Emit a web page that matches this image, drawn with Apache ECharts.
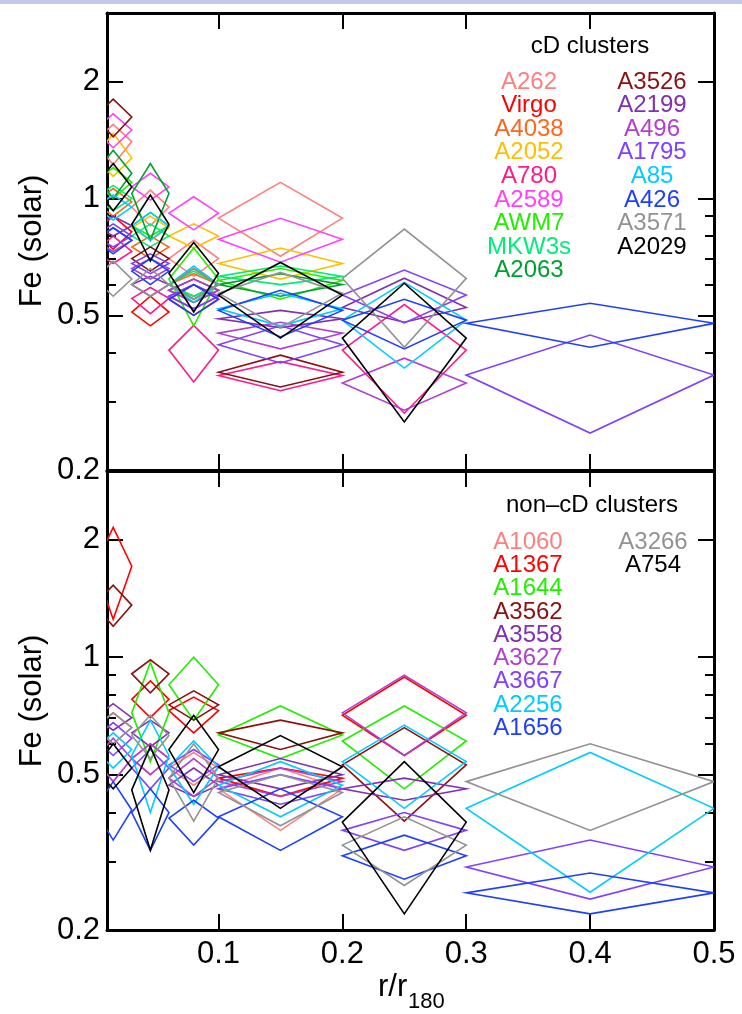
<!DOCTYPE html>
<html>
<head>
<meta charset="utf-8">
<script src="https://cdn.jsdelivr.net/npm/echarts@6/dist/echarts.min.js"></script>
<style>
  html, body { margin: 0; padding: 0; background: #ffffff; }
  #chart { width: 742px; height: 1014px; }
</style>
</head>
<body>
<div id="chart"></div>
<script>
// Radial bins in r/r180: centre, inner edge, outer edge
const rMid = [0.015, 0.045, 0.08, 0.15, 0.25, 0.4];
const rIn  = [0.0,   0.03,  0.06, 0.10, 0.20, 0.3];
const rOut = [0.03,  0.06,  0.10, 0.20, 0.30, 0.5];

// Fe abundance (solar) per bin as [value, lower, upper]; null = no measurement
// cD clusters
const A262  = [[1.40, 1.22, 1.55], [0.95, 0.85, 1.05], [0.70, 0.63, 0.78], [0.89, 0.71, 1.10], null, null];
const Virgo = [[0.82, 0.74, 0.90], [0.51, 0.47, 0.56], [0.55, 0.50, 0.60], null, null, null];
const A4038 = [[0.98, 0.90, 1.06], [0.75, 0.70, 0.80], [0.60, 0.56, 0.64], null, null, null];
const A2052 = [[1.27, 1.14, 1.47], [0.84, 0.78, 0.90], [0.80, 0.745, 0.86], [0.68, 0.62, 0.745], null, null];
const A780  = [[0.73, 0.68, 0.80], [0.553, 0.505, 0.59], [0.407, 0.337, 0.471], [0.35, 0.32, 0.38], [0.407, 0.280, 0.533], null];
const A2589 = [[1.50, 1.35, 1.65], [1.07, 0.99, 1.16], [0.916, 0.83, 1.01], [0.785, 0.685, 0.889], null, null];
const AWM7  = [[1.10, 1.00, 1.20], [0.85, 0.80, 0.92], [0.62, 0.47, 0.745], [0.615, 0.55, 0.66], null, null];
const MKW3s = [[1.00, 0.93, 1.08], [0.80, 0.75, 0.86], [0.60, 0.56, 0.65], [0.63, 0.60, 0.67], null, null];
const A2063 = [[1.16, 1.00, 1.33], [1.03, 0.78, 1.23], [0.60, 0.55, 0.66], [0.60, 0.56, 0.64], null, null];
const A3526 = [[1.62, 1.44, 1.80], [0.70, 0.65, 0.75], [0.58, 0.54, 0.62], [0.357, 0.327, 0.395], null, null];
const A2199 = [[0.85, 0.80, 0.90], [0.60, 0.56, 0.63], [0.56, 0.52, 0.60], [0.49, 0.465, 0.515], [0.524, 0.48, 0.623], null];
const A496  = [[0.78, 0.73, 0.84], [0.66, 0.62, 0.70], [0.58, 0.54, 0.62], [0.45, 0.41, 0.48], [0.335, 0.285, 0.388], null];
const A1795 = [[0.80, 0.75, 0.86], [0.68, 0.64, 0.72], [0.56, 0.52, 0.60], [0.42, 0.377, 0.47], [0.564, 0.478, 0.654], [0.351, 0.249, 0.445]];
const A85   = [[0.95, 0.88, 1.02], [0.85, 0.78, 0.92], [0.60, 0.54, 0.67], [0.52, 0.47, 0.57], [0.486, 0.366, 0.608], null];
const A426  = [[0.78, 0.72, 0.84], [0.65, 0.60, 0.70], [0.55, 0.50, 0.60], [0.515, 0.44, 0.58], [0.486, 0.41, 0.55], [0.477, 0.414, 0.537]];
const A3571 = [[0.62, 0.56, 0.69], [0.60, 0.56, 0.66], [0.60, 0.55, 0.66], [0.57, 0.465, 0.645], [0.623, 0.414, 0.834], null];
const A2029 = [[1.07, 0.93, 1.23], [0.858, 0.69, 1.02], [0.642, 0.51, 0.77], [0.564, 0.437, 0.684], [0.437, 0.266, 0.605], null];

// non-cD clusters
const A1060 = [[0.66, 0.60, 0.72], [0.55, 0.50, 0.60], [0.52, 0.47, 0.57], [0.46, 0.36, 0.52], null, null];
const A1367 = [[1.71, 1.25, 2.15], [0.78, 0.70, 0.87], [0.73, 0.64, 0.79], [0.49, 0.44, 0.52], [0.71, 0.56, 0.89], null];
const A1644 = [null, [0.72, 0.54, 0.97], [0.85, 0.69, 1.00], [0.632, 0.55, 0.75], [0.61, 0.46, 0.75], null];
const A3562 = [[1.36, 1.20, 1.53], [0.907, 0.81, 0.985], [0.755, 0.69, 0.82], [0.64, 0.58, 0.69], [0.53, 0.38, 0.66], null];
const A3558 = [[0.70, 0.65, 0.76], [0.64, 0.59, 0.69], [0.47, 0.44, 0.52], [0.50, 0.46, 0.55], [0.46, 0.43, 0.49], null];
const A3627 = [[0.55, 0.48, 0.62], [0.55, 0.50, 0.60], [0.49, 0.44, 0.55], [0.48, 0.44, 0.52], [0.72, 0.56, 0.90], null];
const A3667 = [[0.62, 0.56, 0.68], [0.52, 0.46, 0.58], [0.53, 0.48, 0.58], [0.46, 0.42, 0.50], [0.36, 0.32, 0.40], [0.29, 0.24, 0.34]];
const A2256 = [[0.58, 0.52, 0.64], [0.56, 0.40, 0.69], [0.524, 0.42, 0.61], [0.47, 0.39, 0.54], [0.54, 0.41, 0.67], [0.41, 0.25, 0.57]];
const A1656 = [[0.406, 0.34, 0.48], [0.40, 0.32, 0.46], [0.387, 0.33, 0.43], [0.39, 0.32, 0.46], [0.31, 0.27, 0.35], [0.249, 0.22, 0.28]];
const A3266 = [[0.66, 0.60, 0.72], [0.63, 0.55, 0.71], [0.49, 0.38, 0.60], [0.45, 0.37, 0.50], [0.33, 0.26, 0.39], [0.48, 0.36, 0.60]];
const A754  = [[0.52, 0.46, 0.60], [0.457, 0.32, 0.59], [0.58, 0.45, 0.71], [0.524, 0.41, 0.63], [0.378, 0.22, 0.54], null];

const cdNames    = ['A262', 'Virgo', 'A4038', 'A2052', 'A780', 'A2589', 'AWM7', 'MKW3s', 'A2063',
                    'A3526', 'A2199', 'A496', 'A1795', 'A85', 'A426', 'A3571', 'A2029'];
const cdProfiles = [A262, Virgo, A4038, A2052, A780, A2589, AWM7, MKW3s, A2063,
                    A3526, A2199, A496, A1795, A85, A426, A3571, A2029];
const cdColors   = ['#ff7f7f', '#ff0000', '#ff6619', '#ffbf00', '#ff1a8c', '#ff40ff', '#22ee00', '#00ee77', '#00a030',
                    '#8b1010', '#8030b0', '#b040d0', '#8040ff', '#00ccff', '#1f3fff', '#929292', '#000000'];

const ncdNames    = ['A1060', 'A1367', 'A1644', 'A3562', 'A3558', 'A3627', 'A3667', 'A2256', 'A1656', 'A3266', 'A754'];
const ncdProfiles = [A1060, A1367, A1644, A3562, A3558, A3627, A3667, A2256, A1656, A3266, A754];
const ncdColors   = ['#ff7f7f', '#ff0000', '#22ee00', '#8b1010', '#8030b0', '#b040d0', '#8040ff', '#00ccff', '#1f3fff', '#929292', '#000000'];

// Axis tick positions
const xTicks  = [0.1, 0.2, 0.3, 0.4, 0.5];
const yMajor  = [0.2, 0.5, 1, 2];
const yMinor  = [0.3, 0.4, 0.6, 0.7, 0.8, 0.9];

const FONT = '"Liberation Sans", Arial, Helvetica, sans-serif';

const chart = echarts.init(document.getElementById('chart'), null, { renderer: 'canvas' });

// One diamond per bin: left/right corners span the bin, top/bottom span the Fe range
function diamondSeries(name, profile, color, panel) {
  const data = [];
  profile.forEach((p, i) => {
    if (p) data.push([rMid[i], rIn[i], rOut[i], p[0], p[1], p[2]]);
  });
  return {
    type: 'custom',
    name: name,
    xAxisIndex: panel * 2,
    yAxisIndex: panel * 4,
    clip: true,
    silent: true,
    animation: false,
    encode: { x: [0, 1, 2], y: [3, 4, 5] },
    data: data,
    renderItem: function (params, api) {
      const pL = api.coord([api.value(1), api.value(3)]);
      const pT = api.coord([api.value(0), api.value(5)]);
      const pR = api.coord([api.value(2), api.value(3)]);
      const pB = api.coord([api.value(0), api.value(4)]);
      return {
        type: 'polygon',
        shape: { points: [pL, pT, pR, pB] },
        style: { fill: 'none', stroke: color, lineWidth: 1.6 }
      };
    }
  };
}

const axisLine = { show: true, lineStyle: { color: '#000', width: 3 } };
const labelFmt = v => String(parseFloat(Number(v).toPrecision(6)));

function xAxes(panel) {
  const base = {
    type: 'value', gridIndex: panel, min: 0.01, max: 0.5,
    splitLine: { show: false },
    axisLine: axisLine,
    axisTick: { show: true, inside: true, length: 16, customValues: xTicks, lineStyle: { color: '#000', width: 2 } }
  };
  return [
    Object.assign({}, base, {
      position: 'bottom',
      axisLabel: {
        show: panel === 1, customValues: xTicks, inside: false, margin: 9,
        fontSize: 31, fontFamily: FONT, color: '#000', formatter: labelFmt
      }
    }),
    Object.assign({}, base, { position: 'top', axisLabel: { show: false } })
  ];
}

function yAxes(panel) {
  const base = { type: 'log', logBase: 10, gridIndex: panel, min: 0.2, max: 3, splitLine: { show: false } };
  const major = { show: true, inside: true, length: 16, customValues: yMajor, lineStyle: { color: '#000', width: 2 } };
  const minor = { show: true, inside: true, length: 9, customValues: yMinor, lineStyle: { color: '#000', width: 2 } };
  return [
    Object.assign({}, base, {
      position: 'left', axisLine: axisLine, axisTick: major,
      axisLabel: { show: true, customValues: yMajor, margin: 7, fontSize: 31, fontFamily: FONT, color: '#000', formatter: labelFmt }
    }),
    Object.assign({}, base, { position: 'left', axisLine: { show: false }, axisTick: minor, axisLabel: { show: false } }),
    Object.assign({}, base, { position: 'right', axisLine: axisLine, axisTick: major, axisLabel: { show: false } }),
    Object.assign({}, base, { position: 'right', axisLine: { show: false }, axisTick: minor, axisLabel: { show: false } })
  ];
}

const series = [];
cdNames.forEach((n, i) => series.push(diamondSeries(n, cdProfiles[i], cdColors[i], 0)));
ncdNames.forEach((n, i) => series.push(diamondSeries(n, ncdProfiles[i], ncdColors[i], 1)));

// Legend lists drawn as coloured names in two columns
const graphics = [];
function text(str, x, y, color, size, extra) {
  graphics.push(Object.assign({
    type: 'text', x: x, y: y, silent: true, z: 10,
    style: {
      text: str, fill: color, font: size + 'px ' + FONT,
      textAlign: 'center', textVerticalAlign: 'middle', align: 'center', verticalAlign: 'middle'
    }
  }, extra || {}));
}

text('cD clusters', 590, 46, '#000', 24);
cdNames.forEach((n, i) => {
  const col = i < 9 ? 0 : 1;
  const row = col === 0 ? i : i - 9;
  text(n, col === 0 ? 529 : 652, 82 + row * 23.6, cdColors[i], 24);
});

text('non\u2013cD clusters', 592, 505, '#000', 24);
ncdNames.forEach((n, i) => {
  const col = i < 9 ? 0 : 1;
  const row = col === 0 ? i : i - 9;
  text(n, col === 0 ? 528 : 653, 542 + row * 23.3, ncdColors[i], 24);
});

// Axis titles
text('Fe (solar)', 32, 241, '#000', 31, { rotation: Math.PI / 2 });
text('Fe (solar)', 32, 701, '#000', 31, { rotation: Math.PI / 2 });
graphics.push({
  type: 'text', x: 378, y: 987, silent: true,
  style: { text: 'r/r', fill: '#000', font: '31px ' + FONT, textAlign: 'left', align: 'left', textVerticalAlign: 'middle', verticalAlign: 'middle' }
});
graphics.push({
  type: 'text', x: 408, y: 1002, silent: true,
  style: { text: '180', fill: '#000', font: '22px ' + FONT, textAlign: 'left', align: 'left', textVerticalAlign: 'middle', verticalAlign: 'middle' }
});
// thin tinted band along the top edge
graphics.push({ type: 'rect', shape: { x: 0, y: 0, width: 742, height: 4 }, style: { fill: '#c3c9e9' }, silent: true });

chart.setOption({
  animation: false,
  backgroundColor: '#ffffff',
  grid: [
    { left: 107, right: 28, top: 13, height: 457 },
    { left: 107, right: 28, top: 471, height: 459 }
  ],
  xAxis: xAxes(0).concat(xAxes(1)),
  yAxis: yAxes(0).concat(yAxes(1)),
  series: series,
  graphic: graphics
});
</script>
</body>
</html>
